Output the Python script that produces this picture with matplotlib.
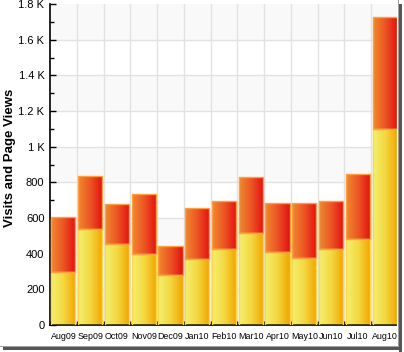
import numpy as np
import matplotlib
matplotlib.use("Agg")
import matplotlib.pyplot as plt
from matplotlib.colors import LinearSegmentedColormap
from matplotlib.patches import Rectangle
from matplotlib.ticker import FixedLocator, MultipleLocator

months = ['Aug09', 'Sep09', 'Oct09', 'Nov09', 'Dec09', 'Jan10', 'Feb10',
          'Mar10', 'Apr10', 'May10', 'Jun10', 'Jul10', 'Aug10']
visits = [297, 537, 456, 398, 282, 371, 425, 516, 408, 376, 425, 482, 1097]
page_views_extra = [307, 298, 224, 335, 159, 287, 269, 312, 276, 308, 269, 367, 629]

y_ticks = [0, 200, 400, 600, 800, 1000, 1200, 1400, 1600, 1800]
y_tick_labels = ['0', '200', '400', '600', '800', '1 K', '1.2 K', '1.4 K', '1.6 K', '1.8 K']

plt.rcParams['font.family'] = ['Liberation Sans', 'DejaVu Sans']

fig = plt.figure(figsize=(4.04, 3.52), dpi=100)
ax = fig.add_axes([50 / 404, 27 / 352, 348 / 404, 321 / 352])

x = np.arange(len(months))

# alternating background bands
for i, lo in enumerate(range(0, 1800, 200)):
    if i % 2 == 0:
        ax.axhspan(lo, lo + 200, color='#f9f9f9', zorder=0, lw=0)

yellow = LinearSegmentedColormap.from_list('yel', ['#f4f070', '#f3d840', '#f4a400'])
red = LinearSegmentedColormap.from_list('red', ['#f08a30', '#ec5424', '#e41010'])
grad = np.linspace(0, 1, 64).reshape(1, -1)

def gradient_bars(bars, cmap):
    for b in bars:
        x0, y0 = b.get_x(), b.get_y()
        w, h = b.get_width(), b.get_height()
        im = ax.imshow(grad, cmap=cmap, aspect='auto', extent=(x0, x0 + w, y0, y0 + h),
                       zorder=2, interpolation='bilinear')
        im.set_clip_path(b)

w = 0.9
b1 = ax.bar(x, visits, width=w, facecolor='none', edgecolor='#ffd84a', lw=1.0, zorder=3)
b2 = ax.bar(x, page_views_extra, bottom=visits, width=w, facecolor='none',
            edgecolor='#ffa040', lw=1.0, zorder=3)
gradient_bars(b1, yellow)
gradient_bars(b2, red)
ax.set_xlim(-0.5, len(months) - 0.5)
ax.set_ylim(0, 1800)

# grid
for lo in range(200, 1800, 200):
    ax.axhline(lo, color='#e2e2e2', lw=1, zorder=1)
for xb in np.arange(0.5, len(months) - 0.5):
    ax.axvline(xb, color='#e2e2e2', lw=1, zorder=1)

ax.set_yticks(y_ticks)
ax.set_yticklabels(y_tick_labels, fontsize=8)
ax.yaxis.set_minor_locator(MultipleLocator(100))
ax.tick_params(axis='y', which='major', direction='in', length=4, width=1, pad=4)
ax.tick_params(axis='y', which='minor', direction='in', length=3, width=1)

ax.set_xticks(x)
ax.set_xticklabels(months, fontsize=6.4)
ax.tick_params(axis='x', which='major', length=0, pad=5)
ax.xaxis.set_minor_locator(FixedLocator(np.arange(-0.5, len(months), 1.0)))
ax.tick_params(axis='x', which='minor', direction='in', length=3, width=1)

for s in ['top', 'right']:
    ax.spines[s].set_visible(False)
ax.spines['left'].set_linewidth(1.2)
ax.spines['bottom'].set_linewidth(1.2)

ax.set_ylabel('Visits and Page Views', fontsize=9.5, fontweight='bold')
ax.yaxis.set_label_coords(-0.097, 0.52)

# screenshot frame with shadow on right and bottom
fig.patches.append(Rectangle((397 / 404, 0), 7 / 404, 1, transform=fig.transFigure,
                             facecolor='white', edgecolor='none', zorder=5))
fig.patches.append(Rectangle((0, 0), 1, 6 / 352, transform=fig.transFigure,
                             facecolor='white', edgecolor='none', zorder=5))
fig.patches.append(Rectangle((399 / 404, 0), 3 / 404, 348 / 352, transform=fig.transFigure,
                             facecolor='#555555', edgecolor='none', zorder=6))
fig.patches.append(Rectangle((3 / 404, 2 / 352), 399 / 404, 3 / 352, transform=fig.transFigure,
                             facecolor='#555555', edgecolor='none', zorder=6))
fig.patches.append(Rectangle((397.5 / 404, 5 / 352), 1 / 404, 347 / 352, transform=fig.transFigure,
                             facecolor='#a0a0a0', edgecolor='none', zorder=6))
fig.patches.append(Rectangle((0, 5 / 352), 398 / 404, 1 / 352, transform=fig.transFigure,
                             facecolor='#a0a0a0', edgecolor='none', zorder=6))

fig.savefig('out.png', dpi=100)
